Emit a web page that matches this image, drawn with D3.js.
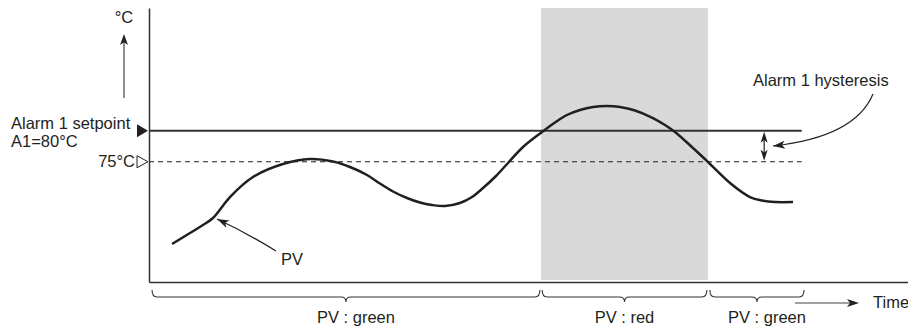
<!DOCTYPE html>
<html><head><meta charset="utf-8">
<script src="https://cdn.jsdelivr.net/npm/d3@7"></script>
<style>
html,body{margin:0;padding:0;background:#fff;}
text{font-family:"Liberation Sans",Arial,Helvetica,sans-serif;fill:#231f20;}
</style></head>
<body>
<svg id="chart" width="908" height="329"></svg>
<script>
// ---- data ----
const timeDomain = [0, 100];
const tempDomain = [55.6, 99.8];
const pvTime = [3.03, 5.40, 7.11, 8.43, 10.67, 13.70, 17.65, 21.21, 24.24, 26.48, 28.72, 30.43, 32.15, 33.99, 35.70, 37.29, 39.00, 40.97, 42.56, 44.01, 45.72, 47.30, 49.28, 51.78, 53.49, 55.07, 56.79, 58.50, 60.34, 62.06, 64.03, 66.40, 67.98, 69.30, 71.67, 73.65, 76.55, 79.18, 80.76, 82.48, 84.85];
const pvTemp = [61.73, 63.50, 64.79, 65.92, 69.31, 72.54, 74.63, 75.44, 75.04, 74.15, 72.86, 71.49, 70.20, 69.15, 68.42, 68.02, 67.86, 68.34, 69.31, 70.76, 72.70, 74.80, 77.38, 79.80, 81.33, 82.54, 83.35, 83.83, 83.99, 83.83, 83.27, 82.05, 80.93, 79.80, 77.22, 74.96, 71.57, 69.31, 68.75, 68.50, 68.50];
const setpoint = 80;
const hysteresisLow = 75;
const refLineEnd = 86;
const hysteresisMarkTime = 81.05;
const alarmBand = [51.65, 73.65];
const segStart = [0.4, 51.8, 73.9];
const segEnd = [51.5, 73.5, 86.3];
const segLabels = ["PV : green", "PV : red", "PV : green"];
const setpointLabel = ["Alarm 1 setpoint", "A1=80°C"];
const lowLabel = "75°C";
const yUnit = "°C";
const xUnit = "Time";
const hystLabel = "Alarm 1 hysteresis";
const pvLabel = "PV";

// ---- drawing ----
const svg = d3.select("#chart");
const x = d3.scaleLinear().domain(timeDomain).range([149, 908]);
const y = d3.scaleLinear().domain(tempDomain).range([282, 8]);
const ink = "#231f20";

function arrowHead(g, tipX, tipY, fromX, fromY, len, half, color) {
  const a = Math.atan2(tipY - fromY, tipX - fromX);
  const bx = tipX - len * Math.cos(a), by = tipY - len * Math.sin(a);
  const nx = -Math.sin(a), ny = Math.cos(a);
  const ix = tipX - len * 0.75 * Math.cos(a), iy = tipY - len * 0.75 * Math.sin(a);
  g.append("path")
    .attr("d", `M${tipX},${tipY}L${bx + nx * half},${by + ny * half}L${ix},${iy}L${bx - nx * half},${by - ny * half}Z`)
    .attr("fill", color).attr("stroke", "none");
}

// alarm band
svg.append("rect")
  .attr("x", x(alarmBand[0])).attr("y", y(tempDomain[1]))
  .attr("width", x(alarmBand[1]) - x(alarmBand[0]))
  .attr("height", y(tempDomain[0]) - y(tempDomain[1]) - 2)
  .attr("fill", "#d9d9d9");

// axes (lines only)
svg.append("g").attr("transform", `translate(${x(0)},0)`)
  .call(d3.axisLeft(y).ticks(0).tickSizeOuter(0));
svg.append("g").attr("transform", `translate(0,${y(tempDomain[0])})`)
  .call(d3.axisBottom(x).ticks(0).tickSizeOuter(0));
svg.selectAll(".domain").attr("stroke", "#333").attr("stroke-width", 1.5);

// setpoint line & hysteresis dashed line
svg.append("line")
  .attr("x1", x(0)).attr("x2", x(refLineEnd))
  .attr("y1", y(setpoint)).attr("y2", y(setpoint))
  .attr("stroke", "#333").attr("stroke-width", 2);
svg.append("line")
  .attr("x1", x(0)).attr("x2", x(refLineEnd))
  .attr("y1", y(hysteresisLow)).attr("y2", y(hysteresisLow))
  .attr("stroke", ink).attr("stroke-width", 1.1).attr("stroke-dasharray", "5,4");

// PV curve
const pts = pvTime.map((t, i) => [t, pvTemp[i]]);
svg.append("path")
  .datum(pts)
  .attr("d", d3.line().x(d => x(d[0])).y(d => y(d[1])).curve(d3.curveCatmullRom.alpha(0.5)))
  .attr("fill", "none").attr("stroke", ink).attr("stroke-width", 2.5)
  .attr("stroke-linecap", "butt");

// setpoint markers on y axis
const ax = x(0);
svg.append("path")
  .attr("d", `M${ax - 12},${y(setpoint) - 6.5}L${ax - 1},${y(setpoint)}L${ax - 12},${y(setpoint) + 6.5}Z`)
  .attr("fill", ink);
svg.append("path")
  .attr("d", `M${ax - 12},${y(hysteresisLow) - 6}L${ax - 1},${y(hysteresisLow)}L${ax - 12},${y(hysteresisLow) + 6}Z`)
  .attr("fill", "#fff").attr("stroke", ink).attr("stroke-width", 1);

// labels left
const fs = "16.5px";
svg.append("text").attr("x", 11).attr("y", y(setpoint) - 2).style("font-size", fs).text(setpointLabel[0]);
svg.append("text").attr("x", 11).attr("y", y(setpoint) + 16).style("font-size", fs).text(setpointLabel[1]);
svg.append("text").attr("x", ax - 14).attr("y", y(hysteresisLow) + 5.5).attr("text-anchor", "end").style("font-size", fs).text(lowLabel);

// y unit + arrow
svg.append("text").attr("x", 124).attr("y", 23).attr("text-anchor", "middle").style("font-size", fs).text(yUnit);
svg.append("line").attr("x1", 124).attr("x2", 124).attr("y1", 98).attr("y2", 40)
  .attr("stroke", "#444").attr("stroke-width", 1.2);
arrowHead(svg, 124, 34, 124, 98, 11, 4, "#222");

// time arrow + label
const ty = y(tempDomain[0]) + 21;
svg.append("line").attr("x1", 795).attr("x2", 850).attr("y1", ty).attr("y2", ty)
  .attr("stroke", "#444").attr("stroke-width", 1.2);
arrowHead(svg, 859, ty, 795, ty, 12, 4, "#222");
svg.append("text").attr("x", 873).attr("y", ty + 5).style("font-size", fs).text(xUnit);

// braces
const by0 = y(tempDomain[0]) + 8;
segStart.forEach((s, i) => {
  const x0 = x(s), x1 = x(segEnd[i]), m = (x0 + x1) / 2;
  const h = by0 + 7, tip = by0 + 12, r = 5;
  const d = `M${x0},${by0}Q${x0},${h} ${x0 + r},${h}L${m - r},${h}Q${m},${h} ${m},${tip}` +
            `Q${m},${h} ${m + r},${h}L${x1 - r},${h}Q${x1},${h} ${x1},${by0}`;
  svg.append("path").attr("d", d).attr("fill", "none").attr("stroke", "#333").attr("stroke-width", 1.1);
  svg.append("text").attr("x", m + (i === 1 ? 0 : 10)).attr("y", y(tempDomain[0]) + 41)
    .attr("text-anchor", "middle").style("font-size", fs).text(segLabels[i]);
});

// hysteresis double arrow
const hx = x(hysteresisMarkTime);
svg.append("line").attr("x1", hx).attr("x2", hx).attr("y1", y(setpoint) + 6).attr("y2", y(hysteresisLow) - 6)
  .attr("stroke", ink).attr("stroke-width", 1.2);
arrowHead(svg, hx, y(setpoint) + 1, hx, y(hysteresisLow), 11, 3.5, ink);
arrowHead(svg, hx, y(hysteresisLow) - 1, hx, y(setpoint), 11, 3.5, ink);

// hysteresis label + pointer
svg.append("text").attr("x", 753).attr("y", 86).style("font-size", fs).text(hystLabel);
const hp0 = [873, 94], hc = [855, 137], hp1 = [773, 146];
svg.append("path").attr("d", `M${hp0}Q${hc} ${hp1}`).attr("fill", "none").attr("stroke", ink).attr("stroke-width", 1.2);
arrowHead(svg, hp1[0], hp1[1], hc[0], hc[1], 12, 4, ink);

// PV label + pointer
svg.append("text").attr("x", 281).attr("y", 265).style("font-size", fs).text(pvLabel);
const p0 = [276, 251], pc = [245, 232], p1 = [217, 219];
svg.append("path").attr("d", `M${p0}Q${pc} ${p1}`).attr("fill", "none").attr("stroke", ink).attr("stroke-width", 1.2);
arrowHead(svg, p1[0], p1[1], pc[0], pc[1], 12, 4, ink);
</script>
</body></html>
